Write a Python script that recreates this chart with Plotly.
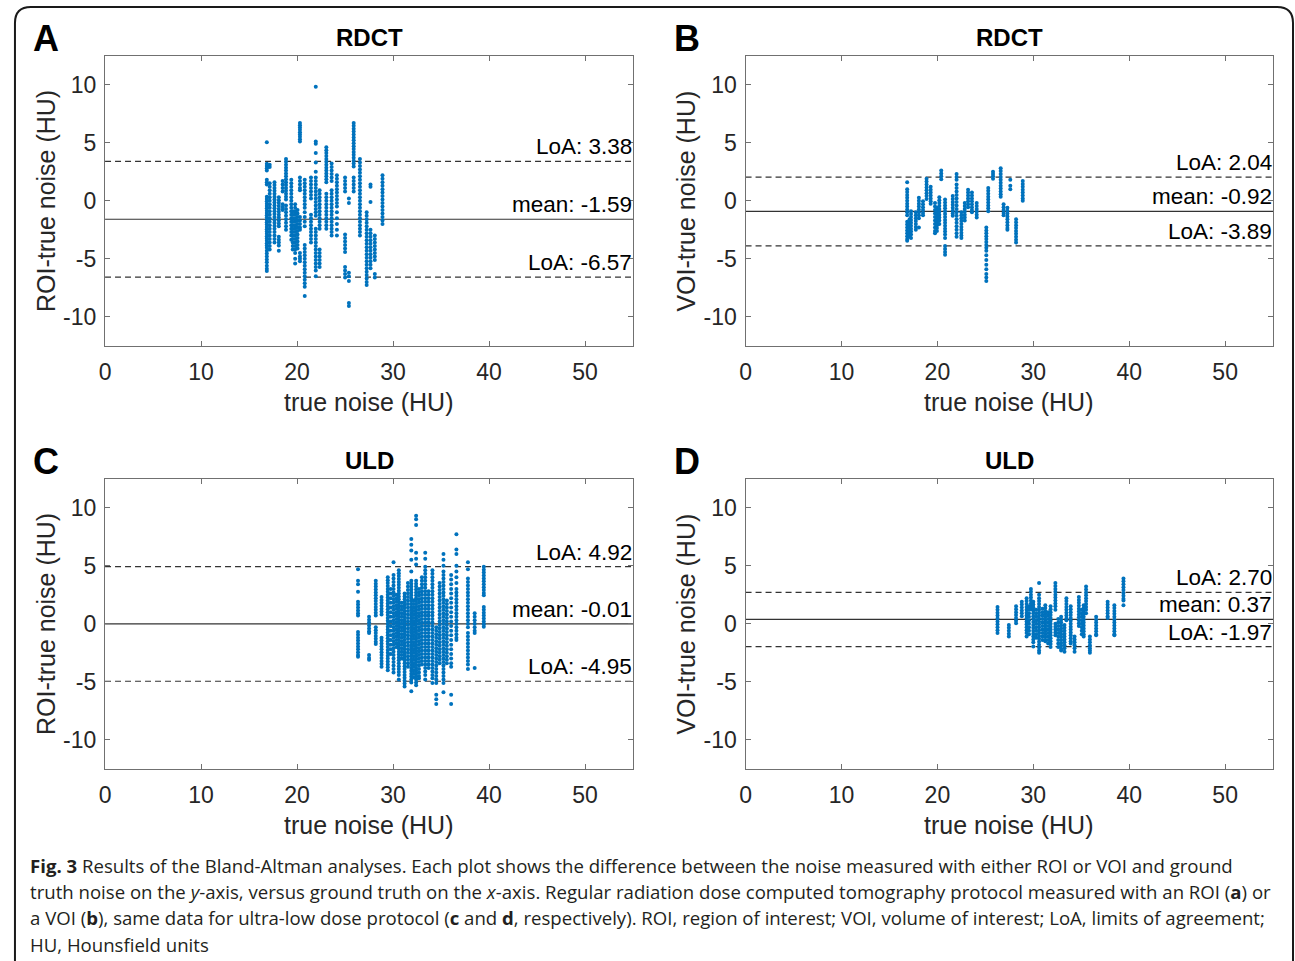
import plotly.graph_objects as go

W, H = 1295, 961

# ---------------- data ----------------
# Panel A: RDCT, ROI
A_true = [16.85, 17.15, 17.65, 18.1, 18.5, 18.85, 19.4, 19.55, 19.8, 20.05, 20.3, 20.8,
          21.45, 21.95, 22.35, 23.05, 23.6, 24.15, 25.0, 25.4, 25.9, 26.55, 27.25, 27.65,
          28.1, 28.9]
A_diff = [
    [5.03, 3.18, 3.0, 2.8, 2.6, 1.8, 1.6, 1.4, 0.35, 0.15, -0.05, -0.25, -0.45, -0.65, -0.85,
     -1.05, -1.25, -1.45, -1.65, -1.85, -2.05, -2.25, -2.45, -2.65, -2.85, -3.05, -3.25,
     -3.45, -3.65, -3.85, -4.05, -4.3, -4.55, -4.8, -5.05, -5.3, -5.6, -5.85, -6.05],
    [3.1, 2.9, 1.5, 1.2, 0.9, 0.6, 0.3, 0.0, -0.3, -0.6, -0.9, -1.2, -1.5, -1.8, -2.1, -2.4,
     -2.7, -3.0, -3.3, -3.6, -3.9, -4.2],
    [1.6, 1.35, 1.1, 0.85, 0.6, 0.35, 0.1, -0.15, -0.4, -0.65, -0.9, -1.15, -1.4, -1.65,
     -1.9, -2.15, -2.4, -2.7, -3.0, -3.3, -3.6],
    [0.3, 0.05, -0.2, -0.45, -0.7, -0.95, -1.2, -1.45, -1.7, -1.95, -2.2, -3.1, -3.35, -3.6,
     -3.85, -4.3],
    [1.7, 1.4, 1.1, 0.8, -0.3, -0.55, -0.8],
    [3.6, 3.35, 3.1, 2.85, 2.6, 2.35, 2.1, 1.85, 1.6, 1.35, 1.1, 0.85, 0.6, 0.35, 0.1, -0.4,
     -0.7, -1.0, -1.3, -1.6, -1.9, -2.2, -2.5],
    [1.8, 1.5, 1.2, 0.9, 0.6, 0.3, 0.0, -0.3, -0.6, -0.9, -1.2, -1.5, -1.8, -2.1, -2.4, -2.7,
     -3.0, -3.35],
    [-0.9, -1.2, -1.5, -1.8, -2.1, -2.4, -2.7, -3.0, -3.3, -3.6, -3.9, -4.2],
    [-0.3, -0.6, -0.9, -1.2, -1.5, -1.8, -2.1, -2.4, -2.7, -3.0, -3.3, -3.6, -3.9, -4.2,
     -4.5, -5.0, -5.4],
    [-0.8, -1.1, -1.4, -1.7, -2.0, -2.3, -2.6, -2.9, -3.2, -3.5, -3.8, -4.1],
    [6.69, 6.5, 6.3, 6.1, 5.9, 5.7, 5.5, 5.3, 5.1, 2.0, 1.7, 1.4, 1.1, 0.9, -1.4, -1.7, -2.0,
     -2.3, -2.5, -4.5, -4.8, -5.0, -5.2],
    [1.8, 1.5, 1.2, 0.9, 0.6, 0.3, 0.0, -0.3, -0.6, -1.0, -1.4, -1.8, -2.2, -3.8, -4.1, -4.4,
     -4.7, -5.0, -5.3, -5.6, -5.9, -6.2, -6.5, -6.8, -7.1, -7.4, -8.2],
    [2.0, 1.7, 1.4, 1.1, 0.8, 0.5, 0.2, -1.2, -1.5, -1.8, -2.1, -2.4, -2.7, -3.0, -3.3, -3.6],
    [9.8, 5.1, 4.9, 4.1, 3.3, 2.5, 2.0, 1.7, 1.4, 1.1, 0.8, 0.5, 0.2, -0.1, -0.4, -0.7, -1.0,
     -1.3, -2.4, -2.7, -3.0, -3.3, -3.6, -3.9, -4.2, -4.5, -4.8, -5.1, -5.4, -5.7, -6.0, -6.5],
    [0.9, 0.6, 0.3, 0.0, -0.3, -0.6, -0.9, -1.2, -1.5, -1.8, -2.1, -2.4, -4.2, -4.5, -4.8,
     -5.1, -5.4, -5.7],
    [4.6, 4.35, 4.1, 3.85, 3.6, 3.35, 3.1, 2.85, 2.6, 2.35, 2.1, 1.85, 1.6, 0.6, 0.3, 0.0,
     -0.3, -0.6, -0.9, -1.2, -1.5, -1.8, -2.1, -2.4],
    [3.2, 2.9, 2.6, 2.3, 2.0, 1.7, 0.9, 0.6, 0.3, 0.0, -0.3, -0.6, -0.9, -1.2, -1.5, -1.8,
     -2.1, -2.4, -2.7, -3.0],
    [2.2, 1.9, 1.6, 1.3, 1.0, 0.7, 0.4, 0.1, -0.2, -0.5, -1.0, -1.5, -2.0, -2.5, -3.0],
    [2.0, 1.7, 1.4, 1.1, 0.8, -2.9, -3.2, -3.5, -3.8, -4.1, -4.4, -5.7, -6.0, -6.3, -6.6],
    [-8.8, -9.05, -6.2, -6.5, -6.9, 0.2, -0.2],
    [6.69, 6.45, 6.2, 5.95, 5.7, 5.45, 5.2, 4.95, 4.7, 4.45, 4.2, 3.95, 3.7, 3.45, 3.2, 2.95,
     2.0, 1.7, 1.4, 1.1, 0.8],
    [3.6, 3.3, 3.0, 2.7, 2.4, 2.1, 1.8, 1.5, 1.2, 0.9, 0.6, 0.3, 0.0, -0.3, -0.6, -0.9, -1.2,
     -1.5, -1.8, -2.1, -2.4, -2.7, -3.0],
    [-1.0, -1.3, -1.6, -1.9, -2.2, -2.5, -2.8, -3.1, -3.4, -3.7, -4.0, -4.3, -4.6, -4.9,
     -5.2, -5.5, -5.8, -6.1, -6.4, -6.7, -7.0, -7.25],
    [1.4, 1.2, -0.1, -2.5, -2.8, -3.1, -3.4, -3.7, -4.0, -4.3, -4.6, -4.9, -5.2, -5.5, -5.8],
    [-3.0, -3.3, -3.6, -3.9, -4.2, -4.5, -4.8, -5.1, -6.3, -6.6],
    [2.2, 1.9, 1.6, 1.3, 1.0, 0.7, 0.4, 0.1, -0.2, -0.5, -0.8, -1.1, -1.4, -1.7, -2.0],
]

# Panel B: RDCT, VOI
B_true = [16.85, 17.1, 17.25, 17.75, 18.07, 18.5, 18.87, 19.3, 19.75, 19.95, 20.2, 20.4,
          20.8, 21.6, 22.0, 22.5, 22.85, 23.2, 23.6, 24.1, 25.1, 25.3, 25.8, 26.6, 26.9,
          27.3, 27.6, 28.2, 28.9]
B_diff = [
    [1.6, 1.0, 0.75, 0.5, 0.25, 0.0, -0.25, -0.5, -0.75, -1.0, -1.25, -1.8, -2.05, -2.3,
     -2.55, -2.8, -3.05, -3.3, -3.45],
    [-1.6, -1.85, -2.1, -2.35, -2.6, -2.85, -3.1],
    [-0.9, -1.15, -1.4, -1.65, -1.9, -2.15, -2.4, -2.65, -2.9, -3.2],
    [-1.0, -1.25, -1.5, -1.75, -2.0, -2.25, -2.5],
    [0.25, 0.0, -0.25, -0.5, -0.75, -1.0, -1.25, -1.5, -2.3],
    [-0.05, -0.3, -0.55, -0.8, -1.05, -1.25],
    [1.9, 1.65, 1.4, 1.15, 0.9, 0.65, 0.4, 0.15],
    [1.2, 0.95, 0.7, 0.45, 0.2, -0.05, -0.25],
    [-0.2, -0.5, -0.8, -1.1, -1.4, -1.7, -2.0, -2.3, -2.6, -2.8],
    [-0.6, -0.85, -1.1, -1.35, -1.6, -1.85, -2.1, -2.35, -2.6],
    [0.3, 0.05, -0.2, -0.45, -0.7, -0.95, -1.2, -1.45, -1.7, -2.0],
    [2.6, 2.35, 2.1, 1.85],
    [0.1, -0.15, -0.4, -0.65, -0.9, -1.15, -1.4, -1.65, -1.9, -2.15, -2.4, -2.65, -2.9,
     -3.2, -3.9, -4.15, -4.4, -4.65],
    [0.4, 0.15, -0.1, -0.35, -0.6, -0.85, -1.1, -1.3],
    [2.3, 2.05, 1.8, 1.4, 1.1, 0.8, 0.5, 0.2, -0.1, -0.4, -0.7, -1.0, -1.3, -1.6, -1.9,
     -2.2, -2.5, -2.8, -3.1],
    [-1.0, -1.25, -1.5, -1.75, -2.0, -2.25, -2.5, -2.75, -3.0, -3.2],
    [-0.2, -0.45, -0.7, -0.95, -1.2, -1.45, -1.7],
    [0.95, 0.7, 0.45, 0.2, -0.05, -0.3, -0.55],
    [0.7, 0.45, 0.2, -0.05, -0.3, -0.55, -0.8, -1.0],
    [-0.2, -0.45, -0.7, -0.95, -1.2, -1.45],
    [-2.3, -2.55, -2.8, -3.05, -3.3, -3.55, -3.8, -4.05, -4.3, -4.7, -5.1, -5.5, -5.9,
     -6.3, -6.6, -6.9],
    [1.1, 0.85, 0.6, 0.35, 0.1, -0.15, -0.4, -0.65, -0.9],
    [2.5, 2.3, 2.1, 1.9],
    [2.8, 2.55, 2.3, 2.05, 1.8, 1.55, 1.3, 1.05, 0.8, 0.55, 0.35],
    [-0.3, -0.55, -0.8, -1.05, -1.25],
    [-0.6, -0.85, -1.1, -1.35, -1.6, -1.85, -2.1, -2.35, -2.5],
    [1.8, 1.3, 1.0],
    [-1.6, -1.85, -2.1, -2.35, -2.6, -2.85, -3.1, -3.35, -3.6],
    [1.7, 1.45, 1.2, 0.95, 0.7, 0.45, 0.2, 0.0],
]

# Panel C: ULD, ROI
C_true = [26.35, 27.5, 28.2, 28.8, 29.45, 29.75, 30.05, 30.35, 30.6, 30.9, 31.2, 31.55,
          31.9, 32.15, 32.4, 32.7, 33.0, 33.35, 33.7, 34.1, 34.5, 34.85, 35.25, 35.6,
          36.05, 36.6, 37.8, 38.5, 39.45]
C_diff = [
    [4.7, 3.7, 3.4, 2.75, 1.9, 1.65, 1.4, 1.15, 0.9, 0.7, -0.7, -0.95, -1.2, -1.45, -1.7,
     -1.95, -2.2, -2.45, -2.7, -2.85],
    [0.6, 0.35, 0.1, -0.15, -0.4, -0.65, -0.8, -2.7, -2.95, -3.1],
    [3.7, 3.45, 3.2, 2.95, 2.7, 2.45, 2.2, 1.95, 1.7, 1.45, 1.2, 0.95, 0.7, -0.3, -0.55,
     -0.8, -1.05, -1.3, -1.55, -1.75],
    [2.3, 2.05, 1.8, 1.55, 1.3, 1.05, 0.8, -1.2, -1.45, -1.7, -1.95, -2.2, -2.45, -2.7,
     -2.95, -3.2, -3.45, -3.7],
    [4.0, 3.75, 3.5, 3.25, 3.0, 2.75, 2.5, 2.25, 2.0, 1.75, 1.5, 1.25, 1.0, 0.75, 0.5, 0.25,
     0.0, -0.25, -0.5, -0.75, -1.0, -1.25, -1.5, -1.75, -2.0, -2.25, -2.5, -2.75, -3.0,
     -3.25, -3.5, -3.75, -4.0],
    [3.0, 2.6, 2.2, 1.8, 1.4, 1.0, 0.6, 0.2, -0.2, -0.6, -1.0, -1.4, -1.8, -2.2, -2.6],
    [5.3, 4.2, 3.9, 3.6, 3.3, 3.0, 2.7, 2.4, 2.1, 1.8, 1.5, 1.2, 0.9, 0.6, 0.3, 0.0, -0.3,
     -0.6, -0.9, -1.2, -1.5, -1.8, -2.1, -2.4, -2.7, -3.0, -3.3, -3.6, -3.9, -4.2],
    [2.5, 2.2, 1.9, 1.6, 1.3, 1.0, 0.7, 0.4, 0.1, -0.2, -0.5, -0.8, -1.1, -1.4, -1.7, -2.0],
    [4.6, 4.35, 4.1, 3.85, 3.6, 3.35, 3.1, 2.85, 2.6, 2.35, 2.1, 1.85, 1.6, 1.35, 1.1,
     0.85, 0.6, 0.35, 0.1, -0.15, -0.4, -0.65, -0.9, -1.15, -1.4, -1.65, -1.9, -2.15, -2.4,
     -2.65, -2.9, -3.15, -3.4, -3.65, -3.9, -4.15, -4.4, -4.8],
    [1.8, 1.5, 1.2, 0.9, 0.6, 0.3, 0.0, -0.3, -0.6, -0.9, -1.2, -1.5, -1.8, -2.1, -2.4,
     -2.7, -3.0],
    [2.6, 2.35, 2.1, 1.85, 1.6, 1.35, 1.1, 0.85, 0.6, 0.35, 0.1, -0.15, -0.4, -0.65, -0.9,
     -1.15, -1.4, -1.65, -1.9, -2.15, -2.4, -2.65, -2.9, -3.15, -3.4, -3.65, -3.9, -4.15,
     -4.4, -4.65, -4.9, -5.15, -5.4],
    [3.5, 3.2, 2.9, 2.6, 2.3, 2.0, 1.7, 1.4, 1.1, 0.8, 0.5, 0.2, -0.1, -0.4, -0.7, -1.0,
     -1.3, -1.6, -1.9, -2.2, -2.5, -2.8, -3.1, -3.4, -3.7],
    [7.3, 6.8, 6.3, 5.5, 4.5, 3.7, 3.45, 3.2, 2.95, 2.7, 2.45, 2.2, 1.95, 1.7, 1.45, 1.2,
     0.95, 0.7, 0.45, 0.2, -0.05, -0.3, -0.55, -0.8, -1.05, -1.3, -1.55, -1.8, -2.05, -2.3,
     -2.55, -2.8, -3.05, -3.3, -3.55, -3.8, -4.05, -4.3, -4.55, -4.8, -5.05, -5.8],
    [2.0, 1.7, 1.4, 1.1, 0.8, 0.5, 0.2, -0.1, -0.4, -0.7, -1.0, -1.3, -1.6, -1.9, -2.2,
     -2.5, -2.8, -3.1, -3.4, -3.7, -4.0, -4.3, -4.6],
    [9.3, 9.0, 8.5, 6.1, 5.6, 5.1, 3.7, 3.45, 3.2, 2.95, 2.7, 2.45, 2.2, 1.95, 1.7, 1.45,
     1.2, 0.95, 0.7, 0.45, 0.2, -0.05, -0.3, -0.55, -0.8, -1.05, -1.3, -1.55, -1.8, -2.05,
     -2.3, -2.55, -2.8, -3.05, -3.3, -3.55, -3.8, -4.05, -4.3, -4.55, -4.8, -5.05, -5.3],
    [3.0, 2.7, 2.4, 2.1, 1.8, 1.5, 1.2, 0.9, 0.6, 0.3, 0.0, -0.3, -0.6, -0.9, -1.2, -1.5,
     -1.8, -2.1, -2.4, -2.7, -3.0, -3.3, -3.6, -3.9, -4.2, -4.5, -4.7],
    [4.0, 3.7, 3.4, 3.1, 2.8, 2.5, 2.2, 1.9, 1.6, 1.3, 1.0, 0.7, 0.4, 0.1, -0.2, -0.5, -0.8,
     -1.1, -1.4, -1.7, -2.0, -2.3, -2.6, -2.9, -3.2, -3.5],
    [6.1, 5.6, 4.9, 4.6, 4.3, 4.0, 3.7, 3.4, 3.1, 2.8, 2.5, 2.2, 1.9, 1.6, 1.3, 1.0, 0.7,
     0.4, 0.1, -0.2, -0.5, -0.8, -1.1, -1.4, -1.7, -2.0, -2.3, -2.6, -2.9, -3.2, -3.5, -3.8,
     -4.1, -4.4, -4.8],
    [2.8, 2.5, 2.2, 1.9, 1.6, 1.3, 1.0, 0.7, 0.4, 0.1, -0.2, -0.5, -0.8, -1.1, -1.4, -1.7,
     -2.0, -2.3, -2.6, -2.9, -3.2, -3.5, -3.8],
    [4.6, 4.3, 4.0, 3.7, 3.4, 3.1, 2.8, 2.5, 2.2, 1.9, 1.6, 1.3, 1.0, 0.7, 0.4, 0.1, -0.2,
     -0.5, -0.8, -1.1, -1.4, -1.7, -2.0, -2.3, -2.6, -2.9, -3.2, -3.5, -3.8, -4.1, -4.4,
     -4.7, -5.1],
    [-0.3, -0.6, -0.9, -1.2, -1.5, -1.8, -2.1, -2.4, -2.7, -3.0, -3.3, -3.6, -3.9, -4.2,
     -4.5, -4.8, -5.1, -6.1, -6.5, -6.9],
    [3.5, 3.2, 2.9, 2.6, 2.3, 2.0, 1.7, 1.4, 1.1, 0.8, 0.5, 0.2, -0.1, -0.4, -0.7, -1.0,
     -1.3, -1.6, -1.9, -2.2, -2.5, -2.8, -3.1, -3.4],
    [6.0, 5.5, 5.0, 4.5, 4.2, 3.9, 3.6, 3.3, 3.0, 2.7, 2.4, 2.1, 1.8, 1.5, 1.2, 0.9, 0.6,
     0.3, 0.0, -0.3, -0.6, -0.9, -1.2, -1.5, -1.8, -2.1, -2.4, -2.7, -3.0, -3.3, -3.6, -3.9,
     -4.2, -4.5, -4.8, -5.1, -5.9],
    [2.0, 1.7, 1.4, 1.1, 0.8, 0.5, 0.2, -0.1, -0.4, -0.7, -1.0, -1.3, -1.6, -1.9, -2.2,
     -2.5, -2.8, -3.1, -3.4],
    [4.2, 3.8, 3.4, 3.0, 2.6, 2.2, 1.8, 1.4, 1.0, 0.6, 0.2, -0.2, -0.6, -1.0, -1.4, -1.8,
     -2.2, -2.6, -3.0, -3.4, -3.7, -6.1, -6.9],
    [7.7, 6.4, 6.0, 5.0, 4.5, 4.0, 3.5, 3.0, 2.7, 2.4, 2.1, 1.8, 1.5, 1.2, 0.9, 0.6, 0.3,
     0.0, -0.3, -0.6, -0.9, -1.2, -1.4],
    [5.3, 4.7, 3.9, 3.6, 3.3, 3.0, 2.7, 2.4, 2.1, 1.8, 1.5, 1.2, 0.9, 0.6, 0.3, 0.0, -0.3,
     -0.8, -1.1, -1.4, -1.7, -2.0, -2.3, -2.6, -2.9, -3.2, -3.5, -3.9],
    [0.9, 0.6, 0.3, 0.0, -0.3, -0.6, -0.8, -3.8],
    [4.9, 4.65, 4.4, 4.15, 3.9, 3.65, 3.4, 3.15, 2.9, 2.65, 2.45, 1.45, 1.2, 0.95, 0.7,
     0.45, 0.2, -0.05, -0.25],
]

# Panel D: ULD, VOI
D_true = [26.27, 27.45, 28.2, 28.8, 29.3, 29.55, 29.75, 30.0, 30.3, 30.6, 30.95, 31.25,
          31.55, 31.8, 32.3, 32.6, 32.9, 33.25, 33.45, 33.9, 34.3, 34.75, 35.05, 35.25,
          35.5, 35.9, 36.55, 37.75, 38.45, 39.4]
D_diff = [
    [1.45, 1.2, 0.95, 0.7, 0.45, 0.2, -0.05, -0.3, -0.55, -0.8],
    [-0.1, -0.35, -0.6, -0.85, -1.1],
    [1.5, 1.25, 1.0, 0.75, 0.5, 0.25, 0.05],
    [1.9, 1.65, 1.4, 1.15, 0.9, 0.65],
    [2.2, 1.95, 1.7, 1.45, 1.2, 0.95, 0.7, 0.45, 0.2, -0.05, -0.3, -0.55, -0.8, -1.1],
    [1.5, 1.2, 0.9, 0.6, 0.3, 0.0, -0.3, -0.6, -0.9],
    [3.0, 2.75, 2.5, 2.25, 2.0, 1.75, 1.5, 1.25],
    [1.9, 1.65, 1.4, 1.15, 0.9, 0.65, 0.4, 0.15, -0.1, -0.35, -0.6, -0.85, -1.1, -1.35,
     -1.6, -1.95],
    [1.2, 0.9, 0.6, 0.3, 0.0, -0.3, -0.6, -0.9, -1.2],
    [3.5, 2.5, 2.2, 1.95, 1.7, 1.45, 1.2, 0.95, 0.7, 0.45, 0.2, -0.05, -0.3, -0.55, -0.8,
     -1.05, -1.3, -1.55, -1.8, -2.05, -2.3, -2.5],
    [1.3, 1.0, 0.7, 0.4, 0.1, -0.2, -0.5, -0.8, -1.1, -1.4],
    [1.6, 1.35, 1.1, 0.85, 0.6, 0.35, 0.1, -0.15, -0.4, -0.65, -0.9, -1.15, -1.4, -1.5],
    [1.0, 0.7, 0.4, 0.1, -0.2, -0.5, -0.8, -1.1, -1.4, -1.7],
    [1.5, 1.25, 1.0, 0.75, 0.5, 0.25, 0.0, -0.25, -0.5, -0.75, -1.0, -1.25, -1.5, -1.75,
     -2.0],
    [3.5, 3.25, 3.0, 2.75, 2.5, 2.25, 2.0, 1.75, 1.5, 1.2, 0.0, -0.25, -0.5, -0.75, -1.0],
    [0.4, 0.1, -0.2, -0.5, -0.8, -1.1, -1.4, -1.7, -2.0],
    [0.6, 0.35, 0.1, -0.15, -0.4, -0.65, -0.9, -1.15, -1.4, -1.65, -1.9, -2.15, -2.3],
    [-0.1, -0.35, -0.6, -0.85, -1.1, -1.35, -1.6, -1.85, -2.1, -2.4],
    [2.2, 1.95, 1.7, 1.45, 1.2, 0.95, 0.7, 0.45, 0.3],
    [1.5, 1.25, 1.0, 0.75, 0.5, 0.25, 0.0, -0.25, -0.5, -0.75, -1.0, -1.25, -1.5, -1.7],
    [-1.1, -1.35, -1.6, -1.85, -2.1, -2.4],
    [2.3, 2.05, 1.8, 1.55, 1.3, 1.05, 0.8, 0.55, 0.3, 0.05, -0.2],
    [1.2, 0.9, 0.6, 0.3, 0.0, -0.3, -0.6, -0.9],
    [1.6, 1.35, 1.1, 0.85, 0.6, 0.35, 0.1, -0.15, -0.4, -0.65, -0.9, -1.1],
    [3.2, 2.95, 2.7, 2.45, 2.2, 1.95, 1.7, 1.45, 1.2, 0.9],
    [-1.1, -1.35, -1.6, -1.85, -2.1, -2.3, -2.5],
    [0.6, 0.35, 0.1, -0.15, -0.4, -0.65, -0.9, -1.0],
    [1.9, 1.65, 1.4, 1.15, 0.9, 0.65, 0.5],
    [1.6, 1.35, 1.1, 0.85, 0.6, 0.35, 0.1, -0.15, -0.4, -0.65, -0.9, -1.0],
    [3.9, 3.65, 3.4, 3.15, 2.9, 2.65, 2.4, 2.15, 2.0, 1.6],
]

# Bland-Altman statistics: upper LoA, mean, lower LoA
loa_upper = [3.38, 2.04, 4.92, 2.70]
bias_mean = [-1.59, -0.92, -0.01, 0.37]
loa_lower = [-6.57, -3.89, -4.95, -1.97]

panel_letters = ["A", "B", "C", "D"]
panel_titles = ["RDCT", "RDCT", "ULD", "ULD"]
y_titles = ["ROI-true noise (HU)", "VOI-true noise (HU)", "ROI-true noise (HU)", "VOI-true noise (HU)"]
x_title = "true noise (HU)"
x_ticks = [0, 10, 20, 30, 40, 50]
y_ticks = [-10, -5, 0, 5, 10]
y_ticklabels = ["-10", "-5", "0", "5", "10"]
x_range = [0, 55]
y_range = [-12.5, 12.5]

caption_lines = [
    "<b>Fig. 3</b> Results of the Bland-Altman analyses. Each plot shows the difference between the noise measured with either ROI or VOI and ground",
    "truth noise on the <i>y</i>-axis, versus ground truth on the <i>x</i>-axis. Regular radiation dose computed tomography protocol measured with an ROI (<b>a</b>) or",
    "a VOI (<b>b</b>), same data for ultra-low dose protocol (<b>c</b> and <b>d</b>, respectively). ROI, region of interest; VOI, volume of interest; LoA, limits of agreement;",
    "HU, Hounsfield units",
]

# ---------------- layout geometry (pixels) ----------------
def px(x):
    return x / W

def py(y):
    return 1 - y / H

# plot-area boxes: (left, right, top, bottom) in pixels
boxes = [(99.5, 630, 55.5, 346), (743, 1273, 55.5, 346),
         (99.5, 630, 478.5, 769), (743, 1273, 478.5, 769)]

FONT = "Liberation Sans, Arial, Helvetica, sans-serif"
AXC = "#707070"
TXT = "#262626"
BLUE = "#0072BD"
DASH = "6px,4px"

fig = go.Figure()
layout = dict(width=W, height=H, margin=dict(l=0, r=0, t=0, b=0),
              paper_bgcolor="white", plot_bgcolor="white", showlegend=False)

annotations = []
datasets = [(A_true, A_diff), (B_true, B_diff), (C_true, C_diff), (D_true, D_diff)]

for i, (box, (tx, dy)) in enumerate(zip(boxes, datasets)):
    n = i + 1
    xa = "x" if n == 1 else f"x{n}"
    ya = "y" if n == 1 else f"y{n}"
    xs, ys = [], []
    for xv, col in zip(tx, dy):
        for v in col:
            xs.append(xv)
            ys.append(v)
    for val, dash in [(loa_upper[i], DASH), (bias_mean[i], "solid"), (loa_lower[i], DASH)]:
        fig.add_trace(go.Scatter(x=x_range, y=[val, val], mode="lines", xaxis=xa, yaxis=ya,
                                 line=dict(color="#333333", width=1.2, dash=dash),
                                 hoverinfo="skip"))
    fig.add_trace(go.Scatter(x=xs, y=ys, mode="markers", xaxis=xa, yaxis=ya,
                             marker=dict(size=4, color=BLUE, line=dict(width=0)),
                             hoverinfo="skip"))
    l, r, t, b = box
    axcommon = dict(showgrid=False, zeroline=False, showline=True, linecolor=AXC, linewidth=1.3,
                    mirror="ticks", ticks="inside", ticklen=5, tickcolor=AXC, tickwidth=1,
                    tickfont=dict(family=FONT, size=23, color=TXT), fixedrange=True)
    layout[f"xaxis{'' if n == 1 else n}"] = dict(
        domain=[px(l), px(r)], range=x_range, tickvals=x_ticks, anchor=ya,
        ticklabelstandoff=5, **axcommon)
    layout[f"yaxis{'' if n == 1 else n}"] = dict(
        domain=[py(b), py(t)], range=y_range, tickvals=y_ticks, ticktext=y_ticklabels,
        anchor=xa, ticklabelstandoff=3, **axcommon)

    cx = (l + r) / 2
    cy = (t + b) / 2
    # panel title
    annotations.append(dict(text=f"<b>{panel_titles[i]}</b>", x=px(cx), y=py(t - 18),
                            xref="paper", yref="paper", showarrow=False,
                            font=dict(family=FONT, size=24, color="black"),
                            xanchor="center", yanchor="middle"))
    # panel letter
    annotations.append(dict(text=f"<b>{panel_letters[i]}</b>", x=px(l - 59), y=py(t - 17),
                            xref="paper", yref="paper", showarrow=False,
                            font=dict(family=FONT, size=36, color="black"),
                            xanchor="center", yanchor="middle"))
    # axis titles
    annotations.append(dict(text=x_title, x=px(cx), y=py(b + 56), xref="paper", yref="paper",
                            showarrow=False, font=dict(family=FONT, size=25, color=TXT),
                            xanchor="center", yanchor="middle"))
    annotations.append(dict(text=y_titles[i], x=px(l - 60), y=py(cy), xref="paper", yref="paper",
                            showarrow=False, textangle=-90,
                            font=dict(family=FONT, size=25, color=TXT),
                            xanchor="center", yanchor="middle"))
    # statistic labels
    for val, lab in [(loa_upper[i], "LoA"), (bias_mean[i], "mean"), (loa_lower[i], "LoA")]:
        annotations.append(dict(text=f"{lab}: {val:.2f}", x=x_range[1], y=val, xref=xa, yref=ya,
                                showarrow=False, xanchor="right", yanchor="bottom",
                                font=dict(family=FONT, size=22.5, color="black"),
                                borderpad=0, yshift=1))

# caption
cap_y = [865, 891, 917, 944]
for line, yy in zip(caption_lines, cap_y):
    annotations.append(dict(text=line, x=px(22), y=py(yy), xref="paper", yref="paper",
                            showarrow=False, xanchor="left", yanchor="middle", align="left",
                            font=dict(family="Open Sans, Noto Sans, sans-serif", size=18.6,
                                      color="#231f20")))

layout["annotations"] = annotations

# outer rounded frame
x0, x1, y0, y1, rr = 9, 1293, 7, 990, 16
path = (f"M {px(x0)},{py(y1)} L {px(x0)},{py(y0 + rr)} "
        f"Q {px(x0)},{py(y0)} {px(x0 + rr)},{py(y0)} "
        f"L {px(x1 - rr)},{py(y0)} Q {px(x1)},{py(y0)} {px(x1)},{py(y0 + rr)} "
        f"L {px(x1)},{py(y1)}")
layout["shapes"] = [dict(type="path", path=path, xref="paper", yref="paper",
                         line=dict(color="#1a1a1a", width=2))]

fig.update_layout(**layout)
fig.write_html("out.html", config={"displayModeBar": False},
               post_script="document.body.style.margin='0px';document.body.style.overflow='hidden';")
